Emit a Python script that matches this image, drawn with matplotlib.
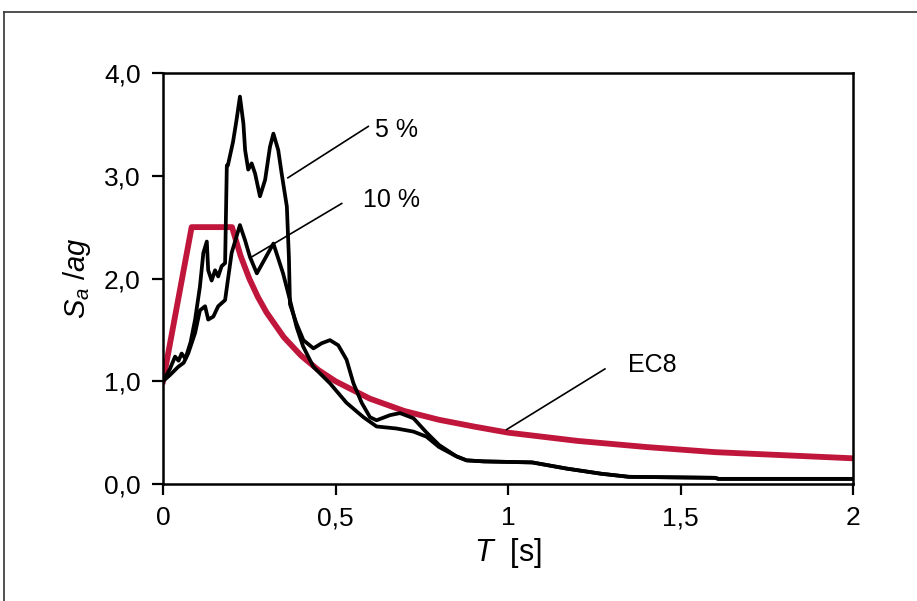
import matplotlib
matplotlib.use("Agg")
import matplotlib.pyplot as plt
from matplotlib.lines import Line2D

plt.rcParams['font.family'] = ['Liberation Sans', 'DejaVu Sans']
plt.rcParams['mathtext.fontset'] = 'custom'
plt.rcParams['mathtext.it'] = 'Liberation Sans:italic'
plt.rcParams['mathtext.rm'] = 'Liberation Sans'

# ---- data ----
T_5 = [0, 0.02, 0.035, 0.045, 0.054, 0.065, 0.08, 0.093, 0.107, 0.117, 0.127, 0.131,
       0.141, 0.151, 0.160, 0.170, 0.180, 0.185, 0.188, 0.203, 0.213, 0.223, 0.233,
       0.238, 0.247, 0.257, 0.267, 0.281, 0.296, 0.310, 0.320, 0.334, 0.344, 0.359,
       0.365, 0.368, 0.387, 0.407, 0.436, 0.46, 0.484, 0.508, 0.532, 0.552, 0.576,
       0.60, 0.619, 0.658, 0.687, 0.726, 0.764, 0.80, 0.85, 0.88, 0.93, 1.07, 1.12,
       1.17, 1.27, 1.35, 1.60, 1.61, 2.0]
Sa_5 = [1.0, 1.12, 1.24, 1.20, 1.27, 1.22, 1.38, 1.60, 1.92, 2.25, 2.36, 2.08,
        1.98, 2.08, 2.02, 2.12, 2.15, 3.10, 3.10, 3.33, 3.54, 3.77, 3.51,
        3.25, 3.06, 3.12, 3.02, 2.80, 2.96, 3.28, 3.41, 3.25, 3.02, 2.70,
        2.20, 1.75, 1.56, 1.40, 1.32, 1.37, 1.40, 1.35, 1.21, 0.98, 0.79,
        0.65, 0.62, 0.67, 0.69, 0.64, 0.50, 0.38, 0.27, 0.23, 0.22, 0.21, 0.18,
        0.15, 0.10, 0.07, 0.06, 0.05, 0.05]

T_10 = [0, 0.02, 0.044, 0.06, 0.073, 0.093, 0.107, 0.122, 0.131, 0.146, 0.16, 0.18,
        0.199, 0.223, 0.238, 0.252, 0.272, 0.32, 0.348, 0.368, 0.387, 0.406, 0.436,
        0.484, 0.532, 0.581, 0.619, 0.677, 0.726, 0.764, 0.80, 0.85, 0.88, 0.93,
        1.07, 1.12, 1.17, 1.27, 1.35, 1.60, 1.61, 2.0]
Sa_10 = [1.0, 1.06, 1.14, 1.18, 1.27, 1.47, 1.69, 1.73, 1.60, 1.63, 1.73, 1.79,
         2.25, 2.52, 2.37, 2.21, 2.05, 2.34, 2.05, 1.79, 1.53, 1.34, 1.14,
         0.98, 0.79, 0.65, 0.56, 0.54, 0.51, 0.46, 0.36, 0.27, 0.23, 0.22,
         0.21, 0.18, 0.15, 0.10, 0.07, 0.06, 0.05, 0.05]

T_ec8 = [0, 0.083, 0.2, 0.225, 0.25, 0.275, 0.3, 0.35, 0.4, 0.45, 0.5, 0.6, 0.7,
         0.8, 0.9, 1.0, 1.2, 1.4, 1.6, 1.8, 2.0]
Sa_ec8 = [1.0, 2.5, 2.5, 2.22, 2.0, 1.82, 1.67, 1.43, 1.25, 1.11, 1.0, 0.83, 0.71,
          0.625, 0.56, 0.5, 0.42, 0.36, 0.31, 0.28, 0.25]

x_ticks = [0, 0.5, 1, 1.5, 2]
x_tick_labels = ['0', '0,5', '1', '1,5', '2']
y_ticks = [0, 1, 2, 3, 4]
y_tick_labels = ['0,0', '1,0', '2,0', '3,0', '4,0']

labels = ['5 %', '10 %', 'EC8']
label_line_start = [(0.362, 2.98), (0.257, 2.21), (0.996, 0.53)]
label_line_end = [(0.595, 3.48), (0.518, 2.73), (1.281, 1.12)]
label_pos = [(0.614, 3.45), (0.58, 2.76), (1.348, 1.16)]

# ---- figure ----
W, H = 917, 601
fig = plt.figure(figsize=(W / 100, H / 100), dpi=100)
ax = fig.add_axes([163 / W, 1 - 484 / H, (853 - 163) / W, (484 - 73) / H])

red = '#C0163C'
ax.plot(T_ec8, Sa_ec8, color=red, lw=4.2, solid_joinstyle='round', zorder=2)
ax.plot(T_10, Sa_10, color='black', lw=2.7, solid_joinstyle='round', zorder=3)
ax.plot(T_5, Sa_5, color='black', lw=2.7, solid_joinstyle='round', zorder=3)

for lab, s, e, p in zip(labels, label_line_start, label_line_end, label_pos):
    ax.plot([s[0], e[0]], [s[1], e[1]], color='black', lw=1.2, zorder=4)
    ax.text(p[0], p[1], lab, fontsize=18, ha='left', va='center')

ax.set_xlim(0, 2)
ax.set_ylim(0, 4)
ax.set_xticks(x_ticks)
ax.set_xticklabels(x_tick_labels)
ax.set_yticks(y_ticks)
ax.set_yticklabels(y_tick_labels)
ax.tick_params(direction='out', length=8, width=1.6, labelsize=19, pad=8)
for sp in ax.spines.values():
    sp.set_linewidth(1.8)

ax.set_xlabel(r'$T$  [s]', fontsize=22, labelpad=4)
ax.set_ylabel(r'$S_a$ /$ag$', fontsize=21, labelpad=8)

# outer frame
fig.add_artist(Line2D([4 / W, 4 / W], [0, 1 - 12 / H], color='#333333', lw=1.2,
                      transform=fig.transFigure))
fig.add_artist(Line2D([4 / W, 1], [1 - 12 / H, 1 - 12 / H], color='#333333', lw=1.2,
                      transform=fig.transFigure))

fig.savefig('out.png', dpi=100)
